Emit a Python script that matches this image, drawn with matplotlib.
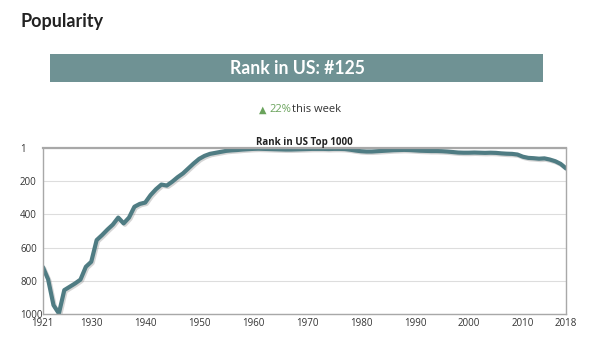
import matplotlib
matplotlib.use("Agg")
import matplotlib.pyplot as plt
import matplotlib.patheffects as pe
from matplotlib.patches import Rectangle

years = list(range(1921, 2019))
ranks = [715, 790, 945, 995, 855, 835, 815, 792, 715, 685, 555, 525, 492, 462, 420, 455, 420, 355, 338, 330,
         285, 250, 222, 228, 205, 178, 155, 125, 95, 68,
         50, 38, 32, 26, 20, 17, 15, 12, 10, 8,
         7, 8, 9, 10, 11, 12, 12, 11, 10, 9,
         8, 8, 8, 9, 8, 8, 9, 13, 18, 22,
         24, 24, 22, 20, 18, 16, 15, 14, 15, 17,
         19, 20, 21, 21, 22, 24, 27, 30, 31, 31,
         30, 31, 32, 31, 32, 35, 37, 38, 42, 55,
         62, 64, 67, 65, 72, 82, 98, 125]
yticks = [1, 200, 400, 600, 800, 1000]
xticks = [1921, 1930, 1940, 1950, 1960, 1970, 1980, 1990, 2000, 2010, 2018]

W, H = 600, 342
fig = plt.figure(figsize=(6, 3.42), dpi=100)
fig.patch.set_facecolor("white")

fig.text(20 / W, 1 - 21 / H, "Popularity", family="Lato", weight="bold", fontsize=13,
         color="#222222", va="center", ha="left")

fig.patches.append(Rectangle((50 / W, 1 - 82 / H), (543 - 50) / W, (82 - 54) / H,
                             transform=fig.transFigure, facecolor="#6f9294", edgecolor="none"))
fig.text(297 / W, 1 - 68 / H, "Rank in US: #125", family="Lato", weight="bold", fontsize=12.7,
         color="white", va="center", ha="center")

fig.text(263 / W, 1 - 110 / H, "▲", family="DejaVu Sans", fontsize=7, color="#6aa35c",
         va="center", ha="center")
fig.text(269 / W, 1 - 110 / H, "22%", family="Open Sans", fontsize=8, color="#6aa35c",
         va="center", ha="left")
fig.text(292 / W, 1 - 110 / H, "this week", family="Open Sans", fontsize=8, color="#333333",
         va="center", ha="left")

ax = fig.add_axes([42.7 / W, 1 - 314.3 / H, (566 - 42.7) / W, (314.3 - 147.7) / H])
ax.plot(years, ranks, color="#4f7c83", lw=3.0, solid_capstyle="round",
        path_effects=[pe.SimpleLineShadow(offset=(1, -1), shadow_color="#888888", alpha=0.35),
                      pe.Normal()])
ax.set_xlim(1921, 2018)
ax.set_ylim(1000, 1)
ax.set_yticks(yticks)
ax.set_xticks(xticks)
ax.set_yticklabels([str(v) for v in yticks])
ax.set_xticklabels([str(v) for v in xticks])
ax.tick_params(axis="y", length=0, pad=16.3, labelsize=7, labelcolor="#333333")
ax.tick_params(axis="x", length=0, pad=3, labelsize=7, labelcolor="#333333")
for lab in ax.get_yticklabels():
    lab.set_horizontalalignment("left")
    lab.set_family("Open Sans")
for lab in ax.get_xticklabels():
    lab.set_family("Open Sans")
ax.grid(axis="y", color="#dddddd", lw=0.8)
ax.set_axisbelow(True)
for s in ax.spines.values():
    s.set_color("#a8a8a8")
    s.set_linewidth(1)
ax.spines["top"].set_linewidth(1.6)
ax.set_title("Rank in US Top 1000", family="Open Sans", weight="bold", fontsize=7,
             color="#222222", pad=2)

fig.savefig("out.png", dpi=100)
